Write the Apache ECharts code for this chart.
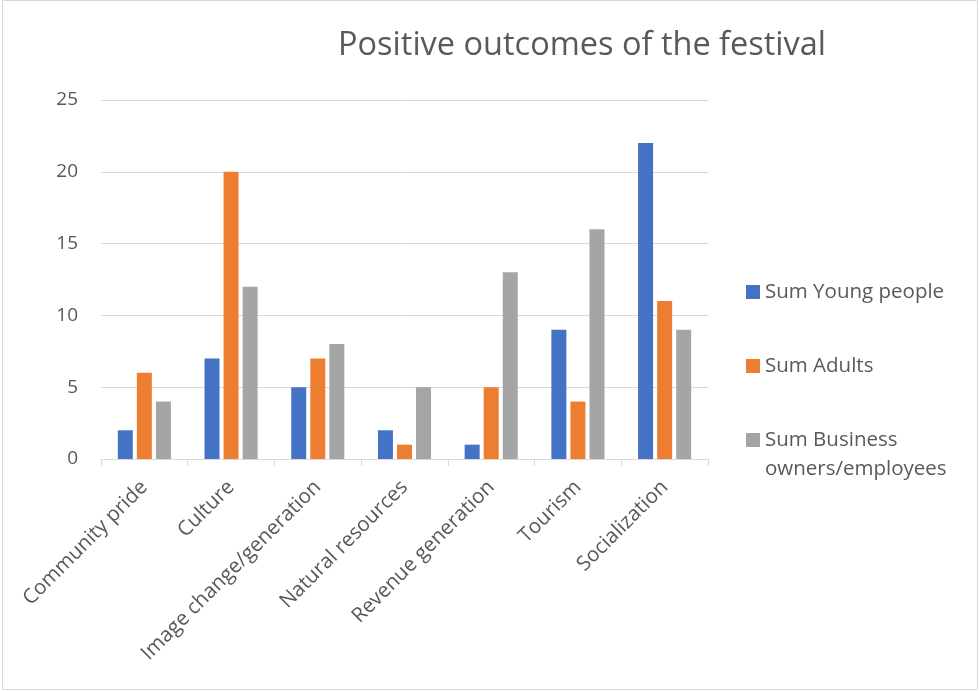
<!DOCTYPE html>
<html lang="en">
<head>
    <meta charset="UTF-8">
    <title>Positive outcomes of the festival</title>
    <script src="https://cdn.jsdelivr.net/npm/echarts@6/dist/echarts.min.js"></script>
    <style>
        html, body { margin: 0; padding: 0; background: #fff; }
        #main { width: 979px; height: 691px; }
    </style>
</head>
<body>
    <div id="main"></div>
<script>
var categories = ['Community pride', 'Culture', 'Image change/generation', 'Natural resources',
    'Revenue generation', 'Tourism', 'Socialization'];
var youngPeople = [2, 7, 5, 2, 1, 9, 22];
var adults = [6, 20, 7, 1, 5, 4, 11];
var business = [4, 12, 8, 5, 13, 16, 9];
var yTicks = [0, 5, 10, 15, 20, 25];

var seriesNames = ['Sum Young people', 'Sum Adults', 'Sum Business owners/employees'];
var colors = ['#4472C4', '#ED7D31', '#A5A5A5'];
var textColor = '#595959';
var font = 'Open Sans';

var myChart = echarts.init(document.getElementById('main'));

// one legend per item so each can sit where Excel put it
function legendAt(idx, top) {
    return {
        data: [seriesNames[idx]],
        left: 746,
        top: top,
        orient: 'vertical',
        padding: 0,
        itemWidth: 14,
        itemHeight: 14,
        itemGap: 0,
        icon: 'rect',
        selectedMode: false,
        formatter: function (name) {
            // leading blank line keeps the square level with the first line
            return name === 'Sum Business owners/employees' ? '\nSum Business\nowners/employees' : name;
        },
        textStyle: { color: textColor, fontSize: 20.5, fontFamily: font, lineHeight: 29 }
    };
}

var option = {
    animation: false,
    color: colors,
    graphic: [{
        type: 'rect',
        shape: { x: 2.5, y: 0.5, width: 975, height: 689 },
        style: { fill: 'none', stroke: '#d9d9d9', lineWidth: 1 },
        silent: true
    }],
    title: {
        text: 'Positive outcomes of the festival',
        left: 333,
        top: 24,
        textStyle: { color: textColor, fontSize: 32.5, fontWeight: 'normal', fontFamily: font }
    },
    legend: [legendAt(0, 277.5), legendAt(1, 351.5), legendAt(2, 396.5)],
    grid: { left: 101, right: 271, top: 100, bottom: 232 },
    xAxis: {
        type: 'category',
        data: categories,
        axisLine: { lineStyle: { color: '#d9d9d9', width: 1 } },
        axisTick: { show: true, length: 7, lineStyle: { color: '#d9d9d9' } },
        axisLabel: {
            interval: 0,
            rotate: 45,
            margin: 25,
            color: textColor,
            fontSize: 20.5,
            fontFamily: font
        }
    },
    yAxis: {
        type: 'value',
        min: yTicks[0],
        max: yTicks[yTicks.length - 1],
        interval: 5,
        axisLine: { show: false },
        axisTick: { show: false },
        splitLine: { lineStyle: { color: '#d9d9d9', width: 1 } },
        axisLabel: { margin: 23, color: textColor, fontSize: 19, fontFamily: font }
    },
    series: [
        { name: seriesNames[0], type: 'bar', data: youngPeople, barWidth: 15, barGap: '27%' },
        { name: seriesNames[1], type: 'bar', data: adults, barWidth: 15, barGap: '27%' },
        { name: seriesNames[2], type: 'bar', data: business, barWidth: 15, barGap: '27%' }
    ]
};
myChart.setOption(option);
</script>
</body>
</html>
